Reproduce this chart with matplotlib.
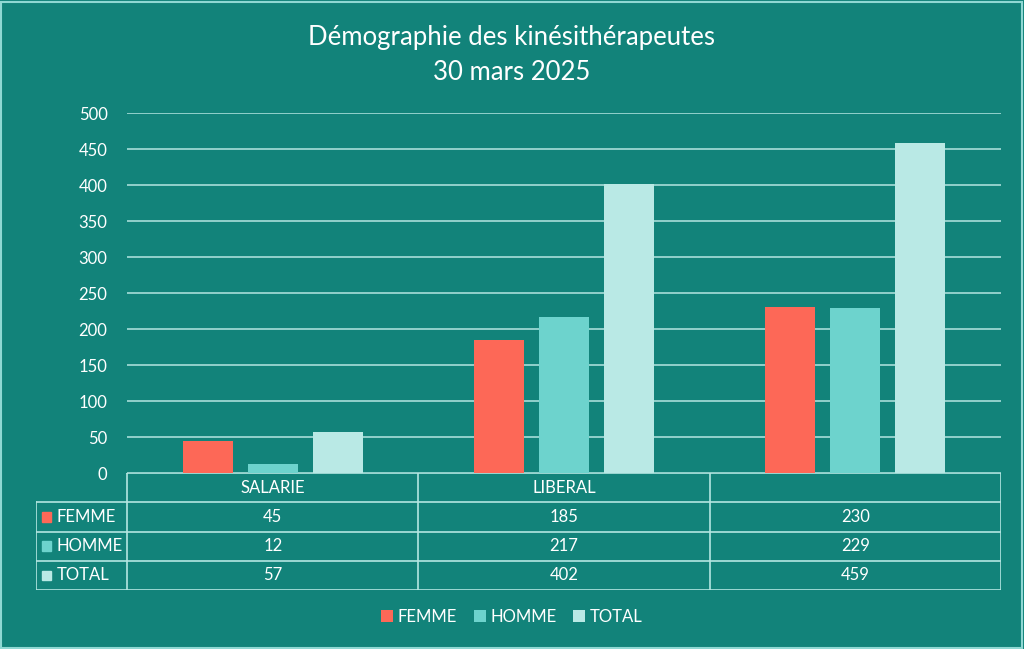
import matplotlib.pyplot as plt
from matplotlib.patches import Rectangle
import numpy as np

plt.rcParams["font.family"] = ["Lato", "DejaVu Sans"]

categories = ["SALARIE", "LIBERAL", ""]
series_names = ["FEMME", "HOMME", "TOTAL"]
femme = [45, 185, 230]
homme = [12, 217, 229]
total = [57, 402, 459]
yticks = [0, 50, 100, 150, 200, 250, 300, 350, 400, 450, 500]

BG = "#12837a"
GRID = "#b4e6e2"
TXT = "#ffffff"
colors = ["#fd6857", "#6dd3cd", "#b9e9e5"]

fig = plt.figure(figsize=(10.24, 6.49), dpi=100, facecolor=BG)
fig.patches.append(Rectangle((0.001, 0.002), 0.997, 0.995, transform=fig.transFigure,
                             fill=False, edgecolor="#8fd8d3", lw=1.5))

ax = fig.add_axes([127 / 1024, 1 - 473 / 649, 874 / 1024, 360 / 649])
ax.set_facecolor(BG)
x = np.arange(len(categories))
w = 0.172
step = 0.223
for i, (vals, c) in enumerate(zip([femme, homme, total], colors)):
    ax.bar(x + (i - 1) * step, vals, width=w, color=c, zorder=3, label=series_names[i])
ax.set_xlim(-0.5, len(categories) - 0.5)
ax.set_ylim(0, 500)
ax.set_yticks(yticks)
ax.set_yticklabels([str(t) for t in yticks], color=TXT, fontsize=12)
ax.tick_params(axis="y", length=0, pad=14)
ax.set_xticks([])
ax.grid(axis="y", color=GRID, lw=1.1, zorder=0)
for s in ax.spines.values():
    s.set_visible(False)

fig.text(0.5, 1 - 38 / 649, "Démographie des kinésithérapeutes", ha="center", va="center",
         color=TXT, fontsize=18.5)
fig.text(0.5, 1 - 72 / 649, "30 mars 2025", ha="center", va="center", color=TXT, fontsize=18.5)

# data table under the chart
lab_w = 91 / 291
tx = fig.add_axes([36 / 1024, 1 - 590 / 649, 965 / 1024, 117 / 649])
tx.set_xlim(-0.5 - lab_w, len(categories) - 0.5)
tx.set_ylim(4, 0)
tx.axis("off")
lc = dict(color=GRID, lw=1.2)
left, right = -0.5 - lab_w, len(categories) - 0.5
tx.plot([-0.5, right], [0, 0], **lc)
for r in range(1, 5):
    tx.plot([left, right], [r, r], **lc)
tx.plot([left, left], [1, 4], **lc)
for j in range(len(categories) + 1):
    tx.plot([j - 0.5, j - 0.5], [0, 4], **lc)
for j, cat in enumerate(categories):
    tx.text(j, 0.5, cat, ha="center", va="center", color=TXT, fontsize=12)
for r, (name, vals, c) in enumerate(zip(series_names, [femme, homme, total], colors)):
    y = r + 1.5
    tx.add_patch(Rectangle((left + 0.022, y - 0.16), 0.03, 0.32, color=c))
    tx.text(left + 0.072, y, name, ha="left", va="center", color=TXT, fontsize=12)
    for j, v in enumerate(vals):
        tx.text(j, y, str(v), ha="center", va="center", color=TXT, fontsize=12)

h, l = ax.get_legend_handles_labels()
fig.legend(h, l, loc="center", bbox_to_anchor=(0.5, 1 - 617 / 649), ncol=3, frameon=False,
           labelcolor=TXT, fontsize=12, handlelength=0.7, handleheight=0.7,
           handletextpad=0.3, columnspacing=1.0)

fig.savefig("out.png", dpi=100, facecolor=BG)
